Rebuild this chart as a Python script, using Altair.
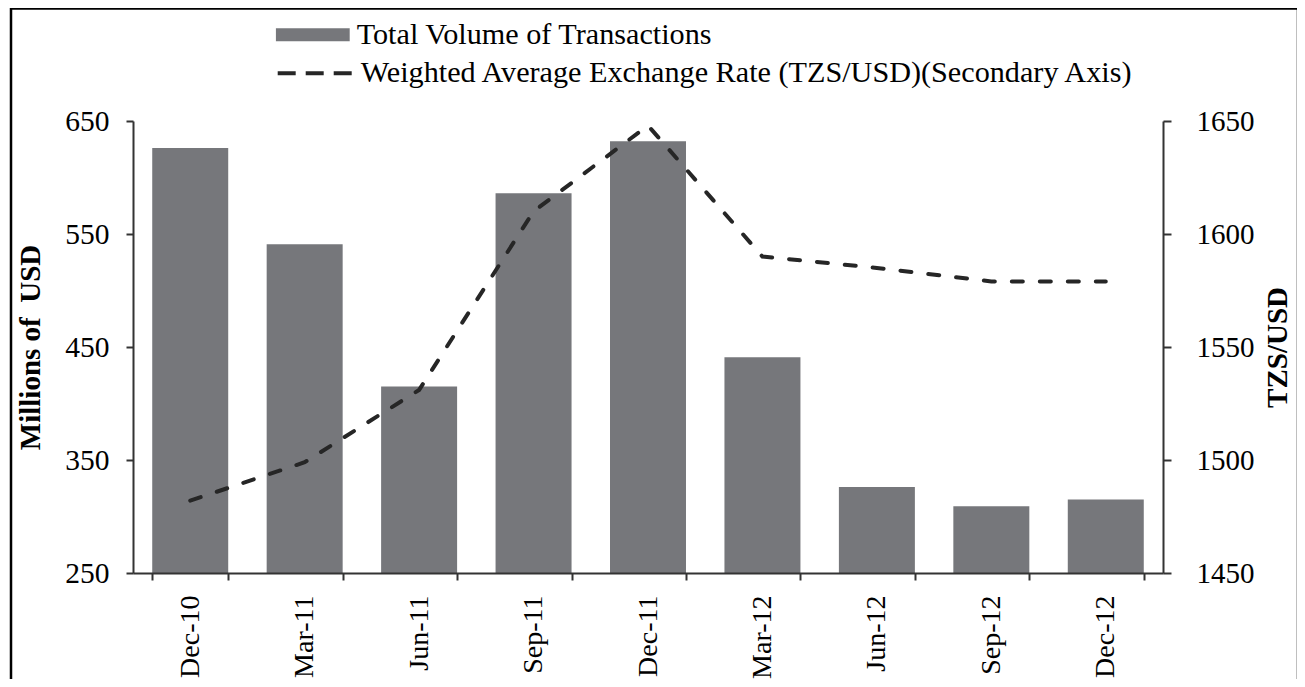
import altair as alt
import pandas as pd

dates = ["Dec-10", "Mar-11", "Jun-11", "Sep-11", "Dec-11", "Mar-12", "Jun-12", "Sep-12", "Dec-12"]
volume = [626, 541, 415, 586, 632, 441, 326, 309, 315]
rate = [1482, 1499, 1531, 1610, 1648, 1590, 1585, 1579, 1579]
bar_series = "Total Volume of Transactions"
line_series = "Weighted Average Exchange Rate (TZS/USD)(Secondary Axis)"
left_ticks = [250, 350, 450, 550, 650]
right_ticks = [1450, 1500, 1550, 1600, 1650]

df = pd.DataFrame({"date": dates, "volume": volume, "rate": rate,
                   "s1": bar_series, "s2": line_series})

FONT = "Liberation Serif"
AX = "#333333"
BAR = "#76777b"
LINE = "#262626"

xenc = alt.X(
    "date:N", sort=dates,
    scale=alt.Scale(paddingInner=0.336, paddingOuter=0.168),
    axis=alt.Axis(title=None, labelAngle=270, labelAlign="right", labelBaseline="middle",
                  labelPadding=15, tickSize=7, tickBand="extent", labelFontSize=28,
                  domainColor=AX, tickColor=AX, domainWidth=2, tickWidth=2, zindex=1),
)

bars = alt.Chart(df).mark_bar(clip=True).encode(
    x=xenc,
    y=alt.Y("volume:Q", scale=alt.Scale(domain=[250, 650], nice=False, zero=False),
            axis=alt.Axis(orient="left", values=left_ticks, title="Millions of\u00a0\u00a0USD",
                          titleFontWeight="bold", titleFontSize=29, titlePadding=19,
                          labelFontSize=29.5, labelPadding=17, tickSize=7, format="d",
                          domainColor=AX, tickColor=AX, domainWidth=2, tickWidth=2)),
    fill=alt.Fill("s1:N", scale=alt.Scale(range=[BAR]),
                  legend=alt.Legend(title=None, orient="none", legendX=142.7, legendY=-101.3,
                                    symbolType="M-1,-0.176L1,-0.176L1,0.176L-1,0.176Z",
                                    symbolSize=5476, clipHeight=30, labelFontSize=30.2,
                                    labelOffset=7, padding=0, symbolStrokeWidth=0,
                                    labelLimit=0, labelFont=FONT, labelColor="black")),
)

line = alt.Chart(df).mark_line(strokeWidth=4, strokeDash=[11, 17], strokeCap="round").encode(
    x=xenc,
    y=alt.Y("rate:Q", scale=alt.Scale(domain=[1450, 1650], nice=False, zero=False),
            axis=alt.Axis(orient="right", values=right_ticks, title="TZS/USD",
                          titleAngle=270, titleBaseline="top", format="d",
                          titleFontWeight="bold", titleFontSize=29, titlePadding=9,
                          labelFontSize=29, labelPadding=25, tickSize=8,
                          domainColor=AX, tickColor=AX, domainWidth=2, tickWidth=2)),
    stroke=alt.Stroke("s2:N", scale=alt.Scale(range=[LINE]),
                      legend=alt.Legend(title=None, orient="none", legendX=142.7, legendY=-62.7,
                                        symbolType="stroke", symbolSize=5476, symbolStrokeWidth=4,
                                        symbolDash=[18, 10], clipHeight=30, labelFontSize=30.2,
                                        labelOffset=7, padding=0, labelLimit=0,
                                        labelFont=FONT, labelColor="black")),
)

border = alt.Chart(pd.DataFrame({"k": [0]})).mark_rect(
    filled=False, stroke="black", strokeWidth=2.5, clip=False
).encode(
    x=alt.value(-122), x2=alt.value(1165), y=alt.value(-112.5), y2=alt.value(700)
)

chart = alt.layer(bars, line, border).resolve_scale(
    y="independent", fill="independent", stroke="independent"
).properties(
    width=1030, height=452,
    padding={"left": 125, "top": 113, "right": 134, "bottom": 106},
    autosize=alt.AutoSizeParams(type="none"),
).configure(font=FONT).configure_view(stroke=None).configure_axis(
    grid=False, labelFont=FONT, titleFont=FONT, labelColor="black", titleColor="black"
)

chart.save("out.html", embed_options={"renderer": "svg", "actions": False})
